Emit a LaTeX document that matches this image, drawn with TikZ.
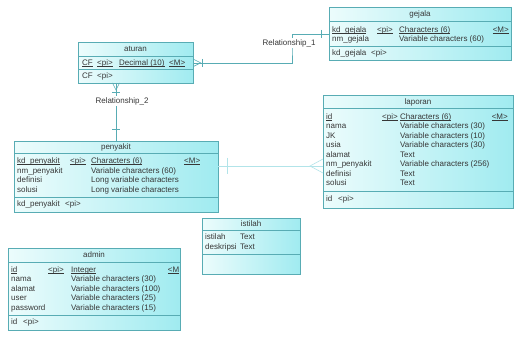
\documentclass[tikz,border=0pt]{standalone}
\usepackage{fontspec}
\setmainfont{Liberation Sans}
\definecolor{bord}{RGB}{88,172,180}
\definecolor{fillL}{RGB}{236,252,252}
\definecolor{fillR}{RGB}{160,235,240}
\definecolor{txt}{RGB}{55,55,55}
\definecolor{faint}{RGB}{178,228,233}
\newcommand\ulx[1]{\setbox0\hbox{#1}\rlap{\rule[-1.3pt]{\wd0}{0.45pt}}\box0}
\tikzset{
  tbl/.style={draw=bord, line width=0.7pt, left color=fillL, right color=fillR, inner sep=0pt, anchor=north west},
  sepline/.style={draw=bord, line width=0.7pt},
  cell/.style={anchor=west, inner sep=0pt, text height=5.8pt, text depth=1.7pt, font=\fontsize{8}{9}\selectfont, text=txt},
  ttl/.style={cell, anchor=center},
  rel/.style={draw=bord, line width=0.6pt},
  relfaint/.style={draw=faint, line width=0.6pt},
  rellbl/.style={cell, anchor=center, fill=white, inner xsep=1pt, inner ysep=1pt},
}
\begin{document}
\begin{tikzpicture}[x=1pt,y=-1pt]
\useasboundingbox (0,0) rectangle (517,342);
\fill[white] (0,0) rectangle (517,342);

% ---------------- gejala
\node[tbl, minimum width=182pt, minimum height=53pt] (gejala) at (329,7) {};
\draw[sepline] (329,21) -- (511,21);
\draw[sepline] (329,46.5) -- (511,46.5);
\node[ttl] (gT) at (420,14) {gejala};
\node[cell] (g1n) at (332,30) {\ulx{kd\_gejala}};
\node[cell] (g1k) at (377,30) {\ulx{<pi>}};
\node[cell] (g1t) at (399,30) {\ulx{Characters (6)}};
\node[cell, anchor=east] (g1m) at (509,30) {\ulx{<M>}};
\node[cell] (g2n) at (332,39.5) {nm\_gejala};
\node[cell] (g2t) at (399,39.5) {Variable characters (60)};
\node[cell] (gPn) at (332,53.5) {kd\_gejala};
\node[cell] (gPk) at (371,53.5) {<pi>};

% ---------------- aturan
\node[tbl, minimum width=115pt, minimum height=41pt] (aturan) at (78,42) {};
\draw[sepline] (78,56) -- (193,56);
\draw[sepline] (78,69.5) -- (193,69.5);
\node[ttl] (aT) at (135.5,49) {aturan};
\node[cell] (a1n) at (82,63) {\ulx{CF}};
\node[cell] (a1k) at (97,63) {\ulx{<pi>}};
\node[cell] (a1t) at (119,63) {\ulx{Decimal (10)}};
\node[cell] (a1m) at (169,63) {\ulx{<M>}};
\node[cell] (aPn) at (82,76) {CF};
\node[cell] (aPk) at (97,76) {<pi>};

% ---------------- penyakit
\node[tbl, minimum width=204pt, minimum height=71pt] (penyakit) at (14,141) {};
\draw[sepline] (14,153) -- (218,153);
\draw[sepline] (14,197.5) -- (218,197.5);
\node[ttl] (pT) at (116,147) {penyakit};
\node[cell] (p1n) at (17,161.5) {\ulx{kd\_penyakit}};
\node[cell] (p1k) at (70,161.5) {\ulx{<pi>}};
\node[cell] (p1t) at (91,161.5) {\ulx{Characters (6)}};
\node[cell] (p1m) at (184,161.5) {\ulx{<M>}};
\node[cell] (p2n) at (17,171) {nm\_penyakit};
\node[cell] (p2t) at (91,171) {Variable characters (60)};
\node[cell] (p3n) at (17,180.5) {definisi};
\node[cell] (p3t) at (91,180.5) {Long variable characters};
\node[cell] (p4n) at (17,190) {solusi};
\node[cell] (p4t) at (91,190) {Long variable characters};
\node[cell] (pPn) at (17,204.5) {kd\_penyakit};
\node[cell] (pPk) at (65,204.5) {<pi>};

% ---------------- laporan
\node[tbl, minimum width=190pt, minimum height=113pt] (laporan) at (323,95) {};
\draw[sepline] (323,108) -- (513,108);
\draw[sepline] (323,191.5) -- (513,191.5);
\node[ttl] (lT) at (418,102) {laporan};
\node[cell] (l1n) at (326,117) {\ulx{id}};
\node[cell] (l1k) at (382,117) {\ulx{<pi>}};
\node[cell] (l1t) at (400,117) {\ulx{Characters (6)}};
\node[cell, anchor=east] (l1m) at (508,117) {\ulx{<M>}};
\node[cell] (l2n) at (326,126.5) {nama};
\node[cell] (l2t) at (400,126.5) {Variable characters (30)};
\node[cell] (l3n) at (326,136) {JK};
\node[cell] (l3t) at (400,136) {Variable characters (10)};
\node[cell] (l4n) at (326,145.5) {usia};
\node[cell] (l4t) at (400,145.5) {Variable characters (30)};
\node[cell] (l5n) at (326,155) {alamat};
\node[cell] (l5t) at (400,155) {Text};
\node[cell] (l6n) at (326,164.5) {nm\_penyakit};
\node[cell] (l6t) at (400,164.5) {Variable characters (256)};
\node[cell] (l7n) at (326,174) {definisi};
\node[cell] (l7t) at (400,174) {Text};
\node[cell] (l8n) at (326,183.5) {solusi};
\node[cell] (l8t) at (400,183.5) {Text};
\node[cell] (lPn) at (326,199.5) {id};
\node[cell] (lPk) at (338,199.5) {<pi>};

% ---------------- istilah
\node[tbl, minimum width=98pt, minimum height=56pt] (istilah) at (202,218) {};
\draw[sepline] (202,230) -- (300,230);
\draw[sepline] (202,254.5) -- (300,254.5);
\node[ttl] (iT) at (251,224) {istilah};
\node[cell] (i1n) at (205,237.5) {istilah};
\node[cell] (i1t) at (240,237.5) {Text};
\node[cell] (i2n) at (205,247) {deskripsi};
\node[cell] (i2t) at (240,247) {Text};

% ---------------- admin
\node[tbl, minimum width=172pt, minimum height=82pt] (admin) at (8,248) {};
\draw[sepline] (8,262) -- (180,262);
\draw[sepline] (8,315) -- (180,315);
\node[ttl] (dT) at (94,255) {admin};
\node[cell] (d1n) at (11,270) {\ulx{id}};
\node[cell] (d1k) at (48,270) {\ulx{<pi>}};
\node[cell] (d1t) at (71,270) {\ulx{Integer}};
\node[cell, anchor=east] (d1m) at (179.5,270) {\ulx{<M}};
\node[cell] (d2n) at (11,279.5) {nama};
\node[cell] (d2t) at (71,279.5) {Variable characters (30)};
\node[cell] (d3n) at (11,289) {alamat};
\node[cell] (d3t) at (71,289) {Variable characters (100)};
\node[cell] (d4n) at (11,298.5) {user};
\node[cell] (d4t) at (71,298.5) {Variable characters (25)};
\node[cell] (d5n) at (11,308) {password};
\node[cell] (d5t) at (71,308) {Variable characters (15)};
\node[cell] (dPn) at (11,322.5) {id};
\node[cell] (dPk) at (23,322.5) {<pi>};

% ---------------- Relationship_1 (aturan -- gejala)
\coordinate (r1v) at (292,48);
\draw[rel] (aturan.east) -| (r1v) |- (gejala.west);
\draw[rel] ([yshift=3.5pt]aturan.east) -- ([xshift=7pt]aturan.east) -- ([yshift=-3.5pt]aturan.east);
\draw[rel] ([xshift=9pt,yshift=4pt]aturan.east) -- ([xshift=9pt,yshift=-4pt]aturan.east);
\draw[rel] ([xshift=-8pt,yshift=4pt]gejala.west) -- ([xshift=-8pt,yshift=-4pt]gejala.west);
\node[rellbl] (rel1) at (289,43) {Relationship\_1};

% ---------------- Relationship_2 (aturan -- penyakit)
\coordinate (r2a) at (116,83);
\coordinate (r2b) at (116,141);
\draw[rel] (r2a) -- (r2b);
\draw[rel] ([xshift=-3.5pt]r2a) -- ([yshift=-7pt]r2a) -- ([xshift=3.5pt]r2a);
\draw[rel] ([xshift=-4pt,yshift=-9pt]r2a) -- ([xshift=4pt,yshift=-9pt]r2a);
\draw[rel] ([xshift=-4pt,yshift=12pt]r2b) -- ([xshift=4pt,yshift=12pt]r2b);
\node[rellbl] (rel2) at (122,101) {Relationship\_2};

% ---------------- faint link (penyakit -- laporan)
\coordinate (r3a) at (218,166);
\coordinate (r3b) at (323,166);
\draw[relfaint] (r3a) -- (r3b);
\draw[relfaint] ([xshift=9pt,yshift=8pt]r3a) -- ([xshift=9pt,yshift=-8pt]r3a);
\draw[relfaint] ([yshift=7pt]r3b) -- ([xshift=-13pt]r3b) -- ([yshift=-7pt]r3b);
\end{tikzpicture}
\end{document}
